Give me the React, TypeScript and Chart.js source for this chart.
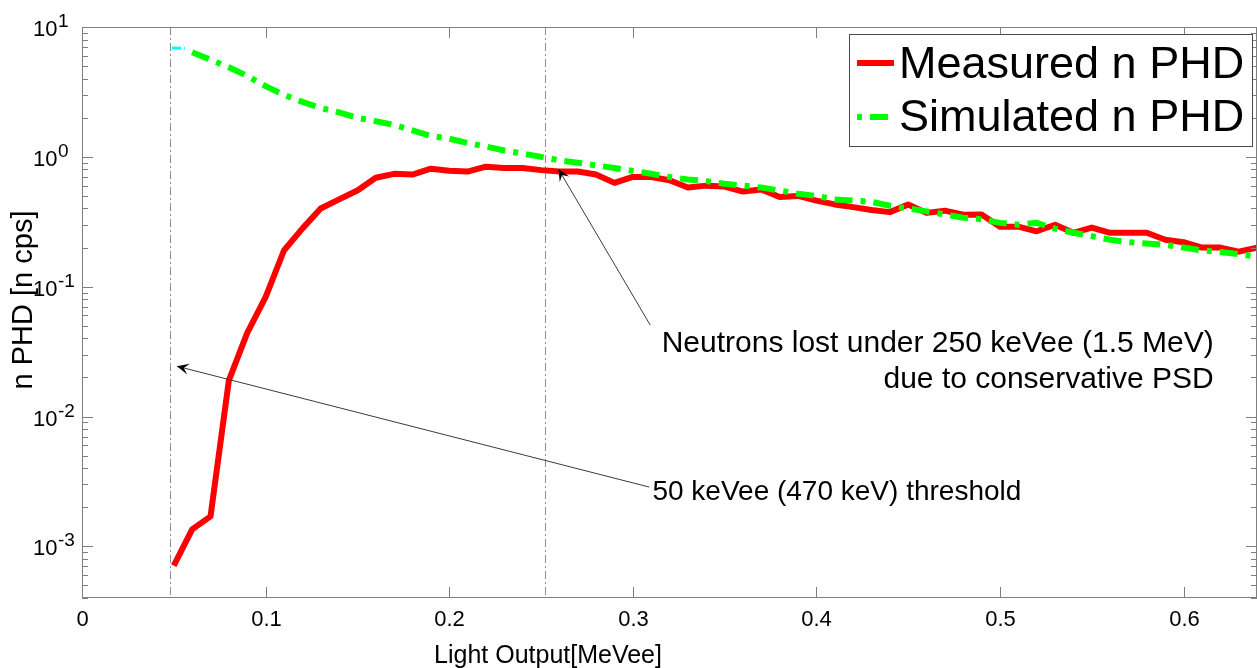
import React, { useEffect, useRef } from "react";
import { Chart, registerables } from "chart.js";

Chart.register(...registerables);

const FONT = "'Liberation Sans', Arial, Helvetica, sans-serif";

// ---------------- data ----------------
const measuredEnergy = [
  0.05, 0.06, 0.07, 0.08, 0.09, 0.1, 0.11, 0.12, 0.13, 0.14,
  0.15, 0.16, 0.17, 0.18, 0.19, 0.2, 0.21, 0.22, 0.23, 0.24,
  0.25, 0.26, 0.27, 0.28, 0.29, 0.3, 0.31, 0.32, 0.33, 0.34,
  0.35, 0.36, 0.37, 0.38, 0.39, 0.4, 0.41, 0.42, 0.43, 0.44,
  0.45, 0.46, 0.47, 0.48, 0.49, 0.5, 0.51, 0.52, 0.53, 0.54,
  0.55, 0.56, 0.57, 0.58, 0.59, 0.6, 0.61, 0.62, 0.63, 0.64,
];
const measuredPHD = [
  0.00071, 0.00135, 0.0017, 0.019, 0.044, 0.083, 0.19, 0.28, 0.4, 0.47,
  0.55, 0.69, 0.74, 0.73, 0.81, 0.78, 0.77, 0.84, 0.82, 0.82,
  0.79, 0.77, 0.77, 0.73, 0.63, 0.7, 0.7, 0.66, 0.58, 0.6,
  0.59, 0.54, 0.56, 0.49, 0.5, 0.46, 0.43, 0.41, 0.39, 0.375,
  0.43, 0.37, 0.385, 0.358, 0.36, 0.29, 0.29, 0.267, 0.3, 0.26,
  0.285, 0.26, 0.26, 0.26, 0.23, 0.22, 0.2, 0.2, 0.186, 0.2,
];

const simulatedEnergy = [
  0.06, 0.07, 0.08, 0.09, 0.1, 0.11, 0.12, 0.13, 0.14,
  0.15, 0.16, 0.17, 0.18, 0.19, 0.2, 0.21, 0.22, 0.23, 0.24,
  0.25, 0.26, 0.27, 0.28, 0.29, 0.3, 0.31, 0.32, 0.33, 0.34,
  0.35, 0.36, 0.37, 0.38, 0.39, 0.4, 0.41, 0.42, 0.43, 0.44,
  0.45, 0.46, 0.47, 0.48, 0.49, 0.5, 0.51, 0.52, 0.53, 0.54,
  0.55, 0.56, 0.57, 0.58, 0.59, 0.6, 0.61, 0.62, 0.63, 0.64,
];
const simulatedPHD = [
  6.4, 5.6, 4.9, 4.2, 3.5, 3.0, 2.65, 2.38, 2.2,
  2.0, 1.88, 1.76, 1.6, 1.45, 1.38, 1.28, 1.2, 1.12, 1.06,
  1.0, 0.94, 0.9, 0.86, 0.82, 0.78, 0.74, 0.7, 0.67, 0.65,
  0.62, 0.6, 0.58, 0.55, 0.52, 0.5, 0.47, 0.46, 0.45, 0.42,
  0.4, 0.38, 0.36, 0.34, 0.33, 0.31, 0.3, 0.31, 0.28, 0.26,
  0.245, 0.23, 0.22, 0.215, 0.21, 0.2, 0.19, 0.185, 0.178, 0.17,
];

// short cyan piece visible below the threshold end of the simulated curve
const simulatedLowEnergy = [0.049, 0.056];
const simulatedLowPHD = [6.9, 6.85];

const thresholdEnergies = [0.048, 0.252];

const xTickValues = [0, 0.1, 0.2, 0.3, 0.4, 0.5, 0.6];
const xTickLabels = ["0", "0.1", "0.2", "0.3", "0.4", "0.5", "0.6"];
const yDecadeExponents = [1, 0, -1, -2, -3];
const yDecadeExponentLabels = ["1", "0", "-1", "-2", "-3"];

const X_MIN = 0;
const X_MAX = 0.64;
const Y_MIN = 4e-4;
const Y_MAX = 10;

const seriesLabels = ["Measured n PHD", "Simulated n PHD"];
const xAxisTitle = "Light Output[MeVee]";
const yAxisTitle = "n PHD [n cps]";

// annotation anchors in data coordinates
const annotations = [
  {
    lines: ["50 keVee (470 keV) threshold"],
    align: "left",
    fontSize: 28,
    textX: 0.3107,
    textY: 0.00227,
    tailX: 0.309,
    tailY: 0.00286,
    headX: 0.0517,
    headY: 0.0244,
  },
  {
    lines: ["Neutrons lost under 250 keVee (1.5 MeV)", "due to conservative PSD"],
    align: "right",
    fontSize: 30,
    textX: 0.6164,
    textY: 0.0313,
    tailX: 0.3095,
    tailY: 0.0506,
    headX: 0.2595,
    headY: 0.805,
  },
];

const RED = "#ff0000";
const GREEN = "#00ff00";
const CYAN = "#00ffff";
const SIM_DASH = [18, 8, 5, 8];
const AXIS_GREY = "#7f7f7f";

function drawArrowHead(ctx, hx, hy, tx, ty) {
  const ang = Math.atan2(hy - ty, hx - tx);
  const L = 12;
  const W = 5.5;
  const notch = 7;
  const ca = Math.cos(ang);
  const sa = Math.sin(ang);
  const bx = hx - L * ca;
  const by = hy - L * sa;
  const nx = hx - notch * ca;
  const ny = hy - notch * sa;
  ctx.beginPath();
  ctx.moveTo(hx, hy);
  ctx.lineTo(bx - W * sa, by + W * ca);
  ctx.lineTo(nx, ny);
  ctx.lineTo(bx + W * sa, by - W * ca);
  ctx.closePath();
  ctx.fill();
}

const matlabPlugin = {
  id: "matlabAxes",
  beforeDatasetsDraw(chart) {
    const { ctx, chartArea: a } = chart;
    const x = chart.scales.x;
    ctx.save();
    ctx.strokeStyle = "#8e8e8e";
    ctx.lineWidth = 1;
    ctx.setLineDash([8, 3, 2, 3]);
    thresholdEnergies.forEach((v) => {
      const px = Math.round(x.getPixelForValue(v)) + 0.5;
      ctx.beginPath();
      ctx.moveTo(px, a.top);
      ctx.lineTo(px, a.bottom);
      ctx.stroke();
    });
    ctx.restore();
  },
  afterDraw(chart) {
    const { ctx, chartArea: a } = chart;
    const x = chart.scales.x;
    const y = chart.scales.y;
    ctx.save();

    // axes box
    ctx.strokeStyle = AXIS_GREY;
    ctx.lineWidth = 1;
    ctx.setLineDash([]);
    ctx.strokeRect(a.left + 0.5, a.top + 0.5, a.right - a.left - 1, a.bottom - a.top - 1);

    // x ticks (bottom + top, inward)
    ctx.fillStyle = "#000";
    ctx.font = `22px ${FONT}`;
    ctx.textAlign = "center";
    ctx.textBaseline = "alphabetic";
    xTickValues.forEach((v, i) => {
      const px = Math.round(x.getPixelForValue(v)) + 0.5;
      ctx.beginPath();
      ctx.moveTo(px, a.bottom);
      ctx.lineTo(px, a.bottom - 11);
      ctx.moveTo(px, a.top);
      ctx.lineTo(px, a.top + 11);
      ctx.stroke();
      ctx.fillText(xTickLabels[i], px, a.bottom + 28);
    });

    // y ticks (log, major + minor, left + right)
    for (let e = -4; e <= 1; e++) {
      for (let k = 1; k <= 9; k++) {
        const v = k * Math.pow(10, e);
        if (v < Y_MIN * 0.999 || v > Y_MAX * 1.001) continue;
        const py = Math.round(y.getPixelForValue(v)) + 0.5;
        const len = k === 1 ? 11 : 6;
        ctx.beginPath();
        ctx.moveTo(a.left, py);
        ctx.lineTo(a.left + len, py);
        ctx.moveTo(a.right, py);
        ctx.lineTo(a.right - len, py);
        ctx.stroke();
      }
    }

    // y tick labels 10^n
    ctx.textAlign = "left";
    yDecadeExponents.forEach((e, i) => {
      const py = y.getPixelForValue(Math.pow(10, e));
      ctx.font = `22px ${FONT}`;
      ctx.fillText("10", 33, py + 9);
      ctx.font = `19px ${FONT}`;
      ctx.fillText(yDecadeExponentLabels[i], 58, py);
    });

    // axis titles
    ctx.font = `25px ${FONT}`;
    ctx.textAlign = "center";
    ctx.fillText(xAxisTitle, 548, 663);
    ctx.save();
    ctx.translate(32, 300);
    ctx.rotate(-Math.PI / 2);
    ctx.font = `29px ${FONT}`;
    ctx.fillText(yAxisTitle, 0, 0);
    ctx.restore();

    // annotations
    annotations.forEach((an) => {
      const hx = x.getPixelForValue(an.headX);
      const hy = y.getPixelForValue(an.headY);
      const tx = x.getPixelForValue(an.tailX);
      const ty = y.getPixelForValue(an.tailY);
      ctx.strokeStyle = "#3a3a3a";
      ctx.lineWidth = 1;
      ctx.beginPath();
      ctx.moveTo(tx, ty);
      ctx.lineTo(hx, hy);
      ctx.stroke();
      ctx.fillStyle = "#000";
      drawArrowHead(ctx, hx, hy, tx, ty);
      ctx.font = `${an.fontSize}px ${FONT}`;
      ctx.textAlign = an.align;
      const lx = x.getPixelForValue(an.textX);
      const ly = y.getPixelForValue(an.textY);
      an.lines.forEach((t, i) => ctx.fillText(t, lx, ly + i * 36));
    });

    // legend
    const lx = 849.5;
    const ly = 34.5;
    ctx.fillStyle = "#fff";
    ctx.fillRect(lx, ly, 403, 112);
    ctx.strokeStyle = "#4a4a4a";
    ctx.lineWidth = 1;
    ctx.strokeRect(lx, ly, 403, 112);
    ctx.lineCap = "butt";
    ctx.lineWidth = 6;
    ctx.strokeStyle = RED;
    ctx.beginPath();
    ctx.moveTo(857, 63);
    ctx.lineTo(894, 63);
    ctx.stroke();
    ctx.strokeStyle = GREEN;
    ctx.setLineDash(SIM_DASH);
    ctx.lineDashOffset = 26;
    ctx.beginPath();
    ctx.moveTo(857, 117);
    ctx.lineTo(890, 117);
    ctx.stroke();
    ctx.setLineDash([]);
    ctx.fillStyle = "#000";
    ctx.font = `45px ${FONT}`;
    ctx.textAlign = "left";
    ctx.fillText(seriesLabels[0], 899, 78);
    ctx.fillText(seriesLabels[1], 899, 131);

    ctx.restore();
  },
};

export default function App() {
  const canvasRef = useRef(null);

  useEffect(() => {
    const chart = new Chart(canvasRef.current, {
      type: "line",
      data: {
        datasets: [
          {
            label: seriesLabels[1],
            data: simulatedEnergy.map((e, i) => ({ x: e, y: simulatedPHD[i] })),
            borderColor: GREEN,
            borderWidth: 6,
            borderDash: SIM_DASH,
            borderCapStyle: "butt",
            pointRadius: 0,
            tension: 0,
            fill: false,
            order: 0,
          },
          {
            label: seriesLabels[0],
            data: measuredEnergy.map((e, i) => ({ x: e, y: measuredPHD[i] })),
            borderColor: RED,
            borderWidth: 6,
            borderJoinStyle: "round",
            pointRadius: 0,
            tension: 0,
            fill: false,
            order: 1,
          },
          {
            label: "low",
            data: simulatedLowEnergy.map((e, i) => ({ x: e, y: simulatedLowPHD[i] })),
            borderColor: CYAN,
            borderWidth: 3,
            borderDash: [9, 3, 3, 20],
            pointRadius: 0,
            tension: 0,
            fill: false,
            order: 2,
          },
        ],
      },
      options: {
        responsive: false,
        animation: false,
        devicePixelRatio: 1,
        layout: { padding: { left: 82, top: 27, right: 0, bottom: 70 } },
        plugins: { legend: { display: false }, tooltip: { enabled: false } },
        scales: {
          x: { type: "linear", min: X_MIN, max: X_MAX, display: false },
          y: { type: "logarithmic", min: Y_MIN, max: Y_MAX, display: false },
        },
      },
      plugins: [matlabPlugin],
    });
    return () => chart.destroy();
  }, []);

  return (
    <div style={{ position: "fixed", left: 0, top: 0, width: 1257, height: 668, background: "#fff" }}>
      <canvas ref={canvasRef} width={1257} height={668} style={{ display: "block" }} />
    </div>
  );
}
